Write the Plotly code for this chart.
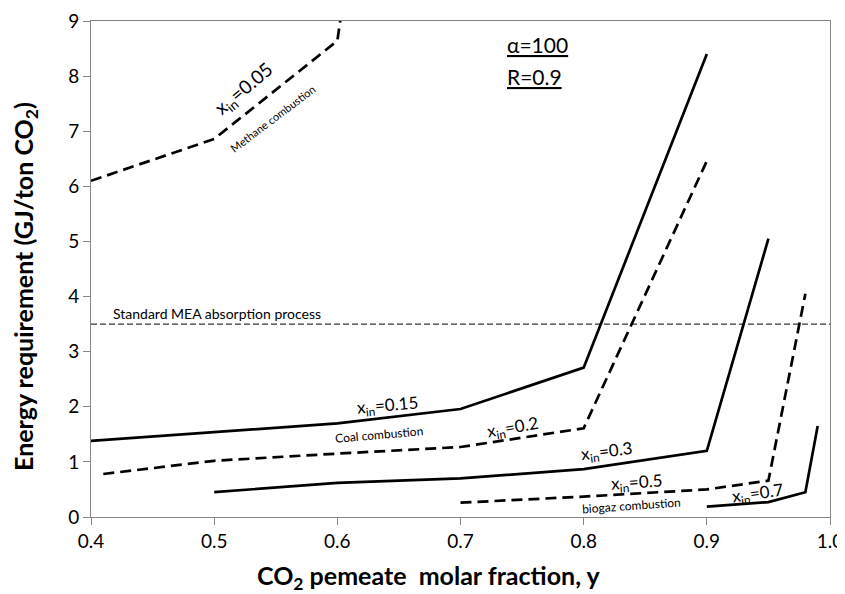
import plotly.graph_objects as go

# ---- data ----
x_methane = [0.4, 0.5, 0.6, 0.7]
e_methane = [6.10, 6.86, 8.64, 24.0]

x_015 = [0.4, 0.5, 0.6, 0.7, 0.8, 0.9]
e_015 = [1.38, 1.54, 1.70, 1.96, 2.71, 8.40]

x_02 = [0.41, 0.5, 0.6, 0.7, 0.8, 0.9]
e_02 = [0.78, 1.02, 1.15, 1.27, 1.61, 6.46]

x_03 = [0.5, 0.6, 0.7, 0.8, 0.9, 0.95]
e_03 = [0.45, 0.62, 0.70, 0.87, 1.20, 5.05]

x_05 = [0.7, 0.8, 0.9, 0.95, 0.98]
e_05 = [0.26, 0.37, 0.50, 0.66, 4.05]

x_07 = [0.9, 0.95, 0.98, 0.99]
e_07 = [0.19, 0.27, 0.45, 1.65]

mea_x = [0.4, 1.0]
mea_level = 3.5

x_ticks = [0.4, 0.5, 0.6, 0.7, 0.8, 0.9, 1.0]
x_tick_text = ["0.4", "0.5", "0.6", "0.7", "0.8", "0.9", "1.0"]
y_ticks = [0, 1, 2, 3, 4, 5, 6, 7, 8, 9]

x_title = "<b>CO<sub>2</sub> pemeate&nbsp; molar fraction, y</b>"
y_title = "<b>Energy requirement (GJ/ton CO<sub>2</sub>)</b>"

FONT = "Lato"
DASH = "11px,6px"

series = [
    (x_methane, e_methane, DASH),
    (x_015, e_015, "solid"),
    (x_02, e_02, DASH),
    (x_03, e_03, "solid"),
    (x_05, e_05, DASH),
    (x_07, e_07, "solid"),
]

fig = go.Figure()
fig.add_trace(go.Scatter(x=mea_x, y=[mea_level] * len(mea_x), mode="lines",
                         line=dict(color="black", width=1, dash="6px,3px"),
                         showlegend=False, hoverinfo="skip"))
for xs, ys, dash in series:
    fig.add_trace(go.Scatter(x=xs, y=ys, mode="lines",
                             line=dict(color="black", width=2.7, dash=dash),
                             showlegend=False))

def ann(x, y, text, size, angle=0, xanchor="center"):
    fig.add_annotation(x=x, y=y, xref="x", yref="y", text=text, showarrow=False,
                       textangle=angle, xanchor=xanchor, yanchor="middle",
                       borderpad=0, borderwidth=0,
                       font=dict(family=FONT, size=size, color="black"))

ann(0.5245, 7.76, "x<sub>in</sub>=0.05", 19, -40)
ann(0.5473, 7.24, "Methane combustion", 11, -37)
ann(0.7375, 8.57, "<u>α=100</u>", 21, 0, "left")
ann(0.7375, 8.00, "<u>R=0.9</u>", 21, 0, "left")
ann(0.4181, 3.69, "Standard MEA absorption process", 14, 0, "left")
ann(0.6407, 2.01, "x<sub>in</sub>=0.15", 17, -5)
ann(0.6342, 1.49, "Coal combustion", 12, -5)
ann(0.7430, 1.62, "x<sub>in</sub>=0.2", 17, -10)
ann(0.8193, 1.18, "x<sub>in</sub>=0.3", 17, -7)
ann(0.8437, 0.61, "x<sub>in</sub>=0.5", 17, -4)
ann(0.8389, 0.20, "biogaz combustion", 12, -4)
ann(0.9413, 0.41, "x<sub>in</sub>=0.7", 17, -8)

# axis titles (placed as in the reference, slightly off-centre)
fig.add_annotation(xref="paper", yref="paper", x=0.4567, y=-0.12, text=x_title,
                   showarrow=False, xanchor="center", yanchor="middle",
                   font=dict(family=FONT, size=25, color="black"))
fig.add_annotation(xref="paper", yref="paper", x=-0.0885, y=0.465, text=y_title,
                   showarrow=False, xanchor="center", yanchor="middle", textangle=-90,
                   font=dict(family=FONT, size=25, color="black"))

axis_common = dict(showgrid=False, zeroline=False, showline=True, linecolor="#868686",
                   linewidth=1, mirror=True, ticks="outside", ticklen=7,
                   tickcolor="#868686", ticklabeloverflow="allow",
                   tickfont=dict(family=FONT, size=19, color="black"))

fig.update_xaxes(range=[0.4, 1.0], tickvals=x_ticks, ticktext=x_tick_text, **axis_common)
fig.update_yaxes(range=[0, 9], tickvals=y_ticks, **axis_common)

# the page body adds an 8 px offset, so the figure is shifted to compensate
fig.update_layout(width=840, height=586, plot_bgcolor="white", paper_bgcolor="white",
                  margin=dict(l=83, r=18.4, t=13, b=77, autoexpand=False),
                  font=dict(family=FONT))

fig.write_html("out.html")
